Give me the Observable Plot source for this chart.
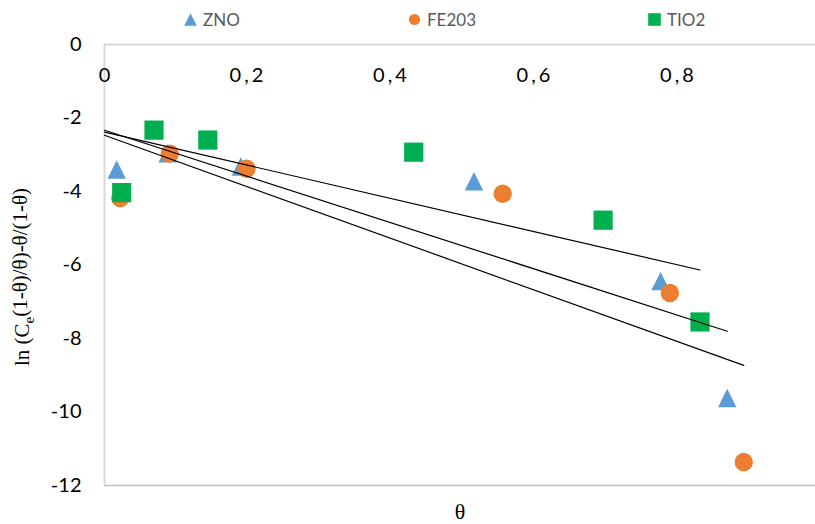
<!DOCTYPE html>
<html>
<head>
<meta charset="utf-8">
<script src="https://cdn.jsdelivr.net/npm/d3@7"></script>
<script src="https://cdn.jsdelivr.net/npm/@observablehq/plot@0.6"></script>
<style>
  html, body { margin: 0; padding: 0; background: #fff; }
  #chart { position: relative; width: 815px; height: 524px; overflow: hidden; }
  #legend { position: relative; z-index: 1; height: 30px; font-family: Lato, "Open Sans", sans-serif; font-size: 17px; color: #595959; }
  #legend .item { position: absolute; top: 8px; height: 22px; display: flex; align-items: center; gap: 6px; }
  #legend svg { display: block; }
  #chart > svg { display: block; }
</style>
</head>
<body>
<div id="chart">
  <div id="legend"></div>
</div>
<script>
// Series: surface coverage θ and ln(Ce(1-θ)/θ) - θ/(1-θ)
const seriesNames = ["ZNO", "FE203", "TIO2"];
const seriesColors = ["#5B9BD5", "#ED7D31", "#00B050"];

const thetaZNO = [0.017, 0.088, 0.190, 0.515, 0.775, 0.868];
const lnZNO    = [-3.40, -2.96, -3.32, -3.72, -6.44, -9.62];

const thetaFE  = [0.022, 0.091, 0.198, 0.555, 0.788, 0.891];
const lnFE     = [-4.18, -2.97, -3.38, -4.06, -6.76, -11.36];

const thetaTIO = [0.024, 0.069, 0.144, 0.431, 0.695, 0.830];
const lnTIO    = [-4.03, -2.33, -2.60, -2.93, -4.78, -7.55];

const xTicks = [0, 0.2, 0.4, 0.6, 0.8];
const yTicks = [0, -2, -4, -6, -8, -10, -12];

const yTitleText = "ln (Ce(1-θ)/θ)-θ/(1-θ)";
const xTitleText = "θ";

const toRows = (xs, ys) => xs.map((x, i) => ({x, y: ys[i]}));
const series = [
  toRows(thetaZNO, lnZNO),
  toRows(thetaFE, lnFE),
  toRows(thetaTIO, lnTIO)
];

// Least-squares trend line, drawn from θ = 0 to the largest θ of the series
function trend(rows) {
  const mx = d3.mean(rows, d => d.x), my = d3.mean(rows, d => d.y);
  const sxy = d3.sum(rows, d => (d.x - mx) * (d.y - my));
  const sxx = d3.sum(rows, d => (d.x - mx) ** 2);
  const slope = sxy / sxx, intercept = my - slope * mx;
  const xmax = d3.max(rows, d => d.x);
  return [0, xmax].map(x => ({x, y: intercept + slope * x}));
}

// Marker shapes, half-width = sqrt(size / π) so that r gives the half-width
const half = size => Math.sqrt(size / Math.PI);
const triangle = {draw(ctx, size) { const h = half(size); ctx.moveTo(0, -h); ctx.lineTo(h, h); ctx.lineTo(-h, h); ctx.closePath(); }};
const square = {draw(ctx, size) { const h = half(size); ctx.rect(-h, -h, 2 * h, 2 * h); }};
const symbols = [triangle, "circle", square];
const radii = [9.2, 9.2, 9.6];

const serif = "'Liberation Serif', 'DejaVu Serif', serif";
const xTickLabel = d => String(d).replace(".", ",");

const plot = Plot.plot({
  width: 815,
  height: 494,
  marginTop: 14,
  marginBottom: 39,
  marginLeft: 104,
  marginRight: 0,
  x: {domain: [0, 0.991], axis: null},
  y: {domain: [-12, 0], axis: null},
  style: {fontFamily: "Lato, 'Open Sans', sans-serif", fontSize: "20px", color: "#000", background: "transparent", overflow: "visible"},
  marks: [
    Plot.ruleY([-12], {stroke: "#bfbfbf", strokeWidth: 1.5}),
    Plot.ruleX([0], {stroke: "#d9d9d9", strokeWidth: 2}),
    Plot.ruleY([0], {stroke: "#d9d9d9", strokeWidth: 2}),
    Plot.axisY(yTicks, {tickSize: 0, tickPadding: 23, tickFormat: d => String(d), label: null, fontSize: 20, fill: "#000"}),
    Plot.text(xTicks, {x: d => d, y: () => 0, dy: 31, text: xTickLabel, fontSize: 20, fill: "#000"}),
    ...series.map((rows, i) => Plot.dot(rows, {x: "x", y: "y", symbol: symbols[i], r: radii[i], fill: seriesColors[i], stroke: "none"})),
    ...series.map(rows => Plot.line(trend(rows), {x: "x", y: "y", stroke: "#000", strokeWidth: 1.2})),
    Plot.text([xTitleText], {frameAnchor: "bottom", dy: 33, fontFamily: serif, fontSize: 22, fill: "#000"}),
    Plot.text([yTitleText], {frameAnchor: "left", textAnchor: "middle", rotate: -90, dx: -82, dy: 12, fontFamily: serif, fontSize: 21, fill: "#000"})
  ]
});

// Wider character spacing on the θ tick labels
const xLabels = new Set(xTicks.map(xTickLabel));
d3.select(plot).selectAll("text")
  .filter(function() { return this.textContent.includes(",") && xLabels.has(this.textContent); })
  .style("letter-spacing", "3px");

// Y title with a subscript e
const yTitle = d3.select(plot).selectAll("text").filter(function() { return this.textContent === yTitleText; });
const [head, tail] = yTitleText.split("Ce");
yTitle.text(null);
yTitle.append("tspan").text(head + "C");
yTitle.append("tspan").attr("font-size", 15).attr("dy", "0.3em").text("e");
yTitle.append("tspan").attr("dy", "-0.3em").text(tail);

document.getElementById("chart").appendChild(plot);

// Legend
const legend = d3.select("#legend");
const lefts = [184, 408, 648];
seriesNames.forEach((name, i) => {
  const item = legend.append("div").attr("class", "item").style("left", lefts[i] + "px");
  const s = item.append("svg").attr("width", 13).attr("height", 13);
  const sym = [triangle, d3.symbolCircle, square][i];
  const size = Math.PI * (i === 1 ? 5.6 : 6.3) ** 2;
  s.append("path").attr("transform", "translate(6.5,6.5)").attr("d", d3.symbol(sym, size)()).attr("fill", seriesColors[i]);
  item.append("span").text(name);
});
</script>
</body>
</html>
